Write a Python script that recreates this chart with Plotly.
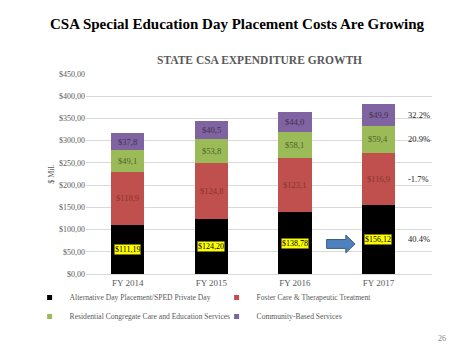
import plotly.graph_objects as go

categories = ["FY 2014", "FY 2015", "FY 2016", "FY 2017"]
alt_day = [111.19, 124.20, 138.78, 156.12]
foster = [118.9, 124.8, 123.1, 116.9]
residential = [49.1, 53.8, 58.1, 59.4]
community = [37.8, 40.5, 44.0, 49.9]
growth_labels = ["40.4%", "-1.7%", "20.9%", "32.2%"]

series_names = [
    "Alternative Day Placement/SPED Private Day",
    "Foster Care & Therapeutic Treatment",
    "Residential Congregate Care and Education Services",
    "Community-Based Services",
]
series_vals = [alt_day, foster, residential, community]
bar_colors = ["#000000", "#c0504d", "#9bbb59", "#8064a2"]
text_colors = ["#000000", "#8a3330", "#4f6228", "#3f3151"]

SERIF = "Liberation Serif, Times New Roman, serif"

def fmt(v, d):
    return "$" + f"{v:.{d}f}".replace(".", ",")

fig = go.Figure()
for name, vals, col in zip(series_names, series_vals, bar_colors):
    fig.add_trace(go.Bar(x=categories, y=vals, name=name, marker_color=col,
                         marker_line_width=0, showlegend=False))
# legend entries with small square markers
for name, col in zip(series_names, bar_colors):
    fig.add_trace(go.Scatter(x=[None], y=[None], mode="markers", name=name,
                             marker=dict(symbol="square", size=5, color=col)))

annotations = []
for i, cat in enumerate(categories):
    base = 0
    for s, (vals, tc) in enumerate(zip(series_vals, text_colors)):
        v = vals[i]
        mid = base + v / 2
        if s == 0:
            annotations.append(dict(x=i, y=mid, xref="x", yref="y", text=fmt(v, 2),
                                    showarrow=False, bgcolor="#ffff00",
                                    bordercolor="#333333", borderwidth=0.5, borderpad=0.5,
                                    font=dict(family=SERIF, size=8, color="#000000")))
        else:
            annotations.append(dict(x=i, y=mid, xref="x", yref="y", text=fmt(v, 1),
                                    showarrow=False,
                                    font=dict(family=SERIF, size=8.5, color=tc)))
        if i == len(categories) - 1:
            annotations.append(dict(x=3.33, y=mid, xref="x", yref="y", text=growth_labels[s],
                                    showarrow=False, xanchor="left",
                                    font=dict(family=SERIF, size=8.5, color="#222222")))
        base += v

annotations += [
    dict(x=0.5, y=1.07, xref="paper", yref="paper", xanchor="center", yanchor="middle",
         text="<b>STATE CSA EXPENDITURE GROWTH</b>", showarrow=False,
         font=dict(family=SERIF, size=11.5, color="#595959")),
    dict(x=1.03, y=-0.32, xref="paper", yref="paper", text="26", showarrow=False,
         xanchor="center", yanchor="middle",
         font=dict(family=SERIF, size=8, color="#7f7f7f")),
]

# blue arrow pointing to FY 2017
arrow_path = ("M 2.38,57.6 L 2.61,57.6 L 2.61,47.6 L 2.72,67.6 "
              "L 2.61,87.6 L 2.61,77.6 L 2.38,77.6 Z")

fig.update_layout(
    width=474, height=355,
    margin=dict(l=85.5, r=41.5, t=74, b=81),
    paper_bgcolor="white", plot_bgcolor="white",
    barmode="stack", bargap=0.6,
    separators=",.",
    font=dict(family=SERIF, color="#595959"),
    title=dict(text="<b>CSA Special Education Day Placement Costs Are Growing</b>",
               x=0.5, xanchor="center", xref="container",
               y=1 - 24 / 355, yanchor="middle",
               font=dict(family=SERIF, size=15, color="#000000")),
    xaxis=dict(type="category", showgrid=False, showline=True, linecolor="#d9d9d9",
               ticks="", tickfont=dict(family=SERIF, size=9, color="#595959")),
    yaxis=dict(range=[0, 450], dtick=50, tickprefix="$", tickformat=".2f",
               gridcolor="#d9d9d9", gridwidth=1, zeroline=False, showline=False,
               tickfont=dict(family=SERIF, size=8, color="#595959"),
               title=dict(text="$ Mil.", font=dict(family=SERIF, size=8, color="#595959"),
                          standoff=3)),
    legend=dict(orientation="h", x=-0.163, xanchor="left", y=-0.045, yanchor="top",
                entrywidth=142, traceorder="normal",
                font=dict(family=SERIF, size=7.6, color="#595959"),
                itemwidth=30, bgcolor="rgba(0,0,0,0)"),
    shapes=[dict(type="path", path=arrow_path, xref="x", yref="y",
                 fillcolor="#4f81bd", line=dict(color="#385d8a", width=1))],
    annotations=annotations,
)

fig.write_html("out.html",
               config={"displayModeBar": False},
               post_script="document.body.style.margin='0';"
                           "document.body.style.overflow='hidden';")
